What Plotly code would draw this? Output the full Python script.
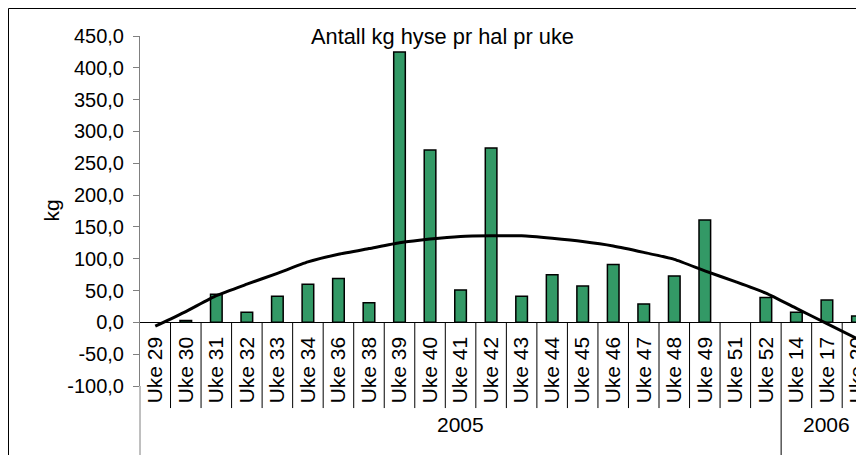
import plotly.graph_objects as go

weeks = ["Uke 29", "Uke 30", "Uke 31", "Uke 32", "Uke 33", "Uke 34", "Uke 36", "Uke 38",
         "Uke 39", "Uke 40", "Uke 41", "Uke 42", "Uke 43", "Uke 44", "Uke 45", "Uke 46",
         "Uke 47", "Uke 48", "Uke 49", "Uke 51", "Uke 52", "Uke 14", "Uke 17", "Uke 20"]
years = ["2005"] * 21 + ["2006"] * 3
kg_per_haul = [None, 3, 44, 16, 41, 60, 69, 31,
               425, 271, 51, 274, 41, 75, 57, 91,
               29, 73, 161, None, 39, 16, 35, 10]
trend = [-6, 17, 42, 60, 77, 95, 107, 116,
         125, 131, 135, 136, 136, 132, 127, 120,
         110, 99, 81, 64, 46, 22, -2, -26]
y_tickvals = [-100, -50, 0, 50, 100, 150, 200, 250, 300, 350, 400, 450]
y_ticktext = ["-100,0", "-50,0", "0,0", "50,0", "100,0", "150,0", "200,0", "250,0",
              "300,0", "350,0", "400,0", "450,0"]
title_text = "Antall kg hyse pr hal pr uke"
y_title = "kg"

FONT = "Liberation Sans, Arial, sans-serif"

W, H = 856, 447
ML, MT, MB = 132, 28, 69
PW, PH = W - ML, H - MT - MB
CAT_W = 30.53

fig = go.Figure()
fig.add_trace(go.Bar(x=weeks, y=kg_per_haul, width=0.38,
                     marker=dict(color="#339966", line=dict(color="#000000", width=1.5)),
                     showlegend=False))
fig.add_trace(go.Scatter(x=weeks, y=trend, mode="lines",
                         line=dict(color="#000000", width=3, shape="spline", smoothing=0.5),
                         showlegend=False))

y_lo, y_hi = y_tickvals[0], y_tickvals[-1]
zero_pos = (0 - y_lo) / (y_hi - y_lo)

shapes = []
group_bounds = [i for i in range(1, len(years)) if years[i] != years[i - 1]]
for i in range(1, len(weeks)):
    long = i in group_bounds
    shapes.append(dict(type="line", xref="x", yref="paper", x0=i - 0.5, x1=i - 0.5,
                       y0=zero_pos, y1=(-0.35 if long else -0.063),
                       line=dict(color="#000000", width=1)))
shapes.append(dict(type="line", xref="paper", yref="paper", x0=0, x1=0, y0=0, y1=-0.35,
                   line=dict(color="#808080", width=1)))
shapes.append(dict(type="rect", xref="paper", yref="paper",
                   x0=(0.5 - ML) / PW, x1=1.3,
                   y0=-0.6, y1=(MT + PH - 0.5) / PH, line=dict(color="#000000", width=1)))

annotations = []
starts = [0] + group_bounds
ends = group_bounds + [len(years)]
for s, e in zip(starts, ends):
    annotations.append(dict(x=(s + e - 1) / 2, y=-0.149, xref="x", yref="paper",
                            text=years[s], showarrow=False,
                            font=dict(size=21, color="#000000", family=FONT)))
annotations.append(dict(x=(29 - ML) / PW, y=0.5, xref="paper", yref="paper", text=y_title,
                        textangle=-90, showarrow=False,
                        font=dict(size=21, color="#000000", family=FONT)))

fig.update_layout(
    width=W, height=H,
    margin=dict(l=ML, r=0, t=MT, b=MB, autoexpand=False),
    paper_bgcolor="white", plot_bgcolor="white",
    font=dict(family=FONT, color="#000000"),
    title=dict(text=title_text, x=434.5 / W, xanchor="center", xref="container",
               y=1 - 28 / H, yanchor="middle", yref="container", automargin=False,
               font=dict(size=21.8, color="#000000", family=FONT)),
    shapes=shapes,
    annotations=annotations,
    bargap=0.6,
)
fig.update_xaxes(type="category", categoryorder="array", categoryarray=weeks,
                 range=[-0.5, -0.5 + PW / CAT_W], anchor="free", position=zero_pos,
                 showline=True, linecolor="#000000", linewidth=1, ticks="",
                 tickangle=-90, ticklabelstandoff=5,
                 tickfont=dict(size=21, color="#000000", family=FONT),
                 showgrid=False, zeroline=False, fixedrange=True, automargin=False)
fig.update_yaxes(range=[y_lo, y_hi], tickvals=y_tickvals, ticktext=y_ticktext,
                 showline=True, linecolor="#808080", linewidth=1, ticks="outside",
                 ticklen=6, tickcolor="#808080", automargin=False, ticklabelstandoff=5,
                 tickfont=dict(size=20, color="#000000", family=FONT),
                 showgrid=False, zeroline=False)

fig.write_html("out.html")
